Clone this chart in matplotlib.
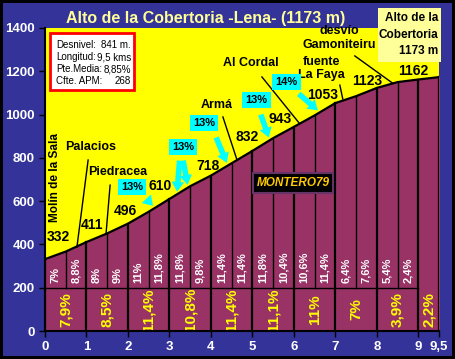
import numpy as np
import matplotlib.pyplot as plt
from matplotlib.patches import Rectangle

plt.rcParams['font.family'] = ['Liberation Sans', 'DejaVu Sans']

# Données du profil
km = [0, 0.5, 1, 1.5, 2, 2.5, 3, 3.5, 4, 4.5, 5, 5.5, 6, 6.5, 7, 7.5, 8, 8.5, 9, 9.5]
altitude = [332, 367, 411, 451, 496, 551, 610, 669, 718, 775, 832, 891, 943, 996,
            1053, 1085, 1123, 1150, 1162, 1173]
pente_demi = ["7%", "8,8%", "8%", "9%", "11%", "11,8%", "11,8%", "9,8%", "11,4%", "11,4%",
              "11,8%", "10,4%", "10,6%", "11,4%", "6,4%", "7,6%", "5,4%", "2,4%"]
pente_km = ["7,9%", "8,5%", "11,4%", "10,8%", "11,4%", "11,1%", "11%", "7%", "3,9%", "2,2%"]
km_bornes = [0, 1, 2, 3, 4, 5, 6, 7, 8, 9, 9.5]
alt_bornes = [332, 411, 496, 610, 718, 832, 943, 1053, 1123, 1162]
xtick_labels = ["0", "1", "2", "3", "4", "5", "6", "7", "8", "9", "9,5"]

# Positions des étiquettes (mise en page)
pos_alt = [(0.31, 434), (1.13, 490), (1.95, 554), (2.77, 670), (3.93, 762),
           (4.87, 896), (5.66, 980), (6.70, 1090), (7.76, 1155), (8.87, 1201)]
lieux = [
    ("Palacios", (1.10, 850), (1.04, 790), (0.77, 388)),
    ("Piedracea", (1.76, 735), (1.57, 674), (1.47, 446)),
    ("Armá", (4.14, 1044), (4.29, 989), (4.63, 790)),
    ("Al Cordal", (4.96, 1238), (5.23, 1174), (6.14, 958)),
    ("fuente\nLa Faya", (6.67, 1213), (7.11, 1136), (7.18, 1072)),
    ("desvío\nGamoniteiru", (7.10, 1352), (7.47, 1271), (8.39, 1144)),
]
fleches = [
    ("13%", (2.10, 665), [((2.41, 618), (2.65, 569))]),
    ("13%", (3.33, 850), [((3.25, 800), (3.18, 631)), ((3.32, 800), (3.45, 663))]),
    ("13%", (3.83, 961), [((4.10, 906), (4.41, 765))]),
    ("13%", (5.10, 1067), [((5.18, 1012), (5.42, 882))]),
    ("14%", (5.83, 1151), [((6.07, 1104), (6.63, 1011))]),
]

########################################################
# Figure
########################################################
bleu = "#333399"
bordeaux = "#993366"
fig = plt.figure(figsize=(4.55, 3.59), dpi=100, facecolor=bleu)
fig.patch.set_edgecolor("black")
fig.patch.set_linewidth(3)
ax = fig.add_axes([45/455, 28/359, 394/455, 303/359])
ax.set_facecolor("#FFFF00")

# Zone sous le profil
ax.fill_between(km, altitude, 0, color=bordeaux, zorder=1)
ax.plot(km, altitude, color="black", lw=1.6, zorder=3)

# Séparateurs
for x, z in zip(km, altitude):
    if x == int(x) or x == 9.5:
        ax.plot([x, x], [0, z], color="black", lw=1.6, zorder=2)
    else:
        ax.plot([x, x], [200, z], color="black", lw=1, zorder=2)
ax.plot([0, 9], [200, 200], color="black", lw=1, zorder=2)

# Pentes par demi-km
for i, p in enumerate(pente_demi):
    ax.text(km[i] + 0.25, 222, p, rotation=90, ha="center", va="bottom",
            color="white", fontsize=8, fontweight="bold", zorder=4)

# Pentes par km
for i, p in enumerate(pente_km):
    xc = (km_bornes[i] + km_bornes[i + 1]) / 2
    ax.text(xc, 100, p, rotation=90, ha="center", va="center",
            color="#FFFF00", fontsize=11, fontweight="bold", zorder=4)

# Altitudes
for (x, y), a in zip(pos_alt, alt_bornes):
    ax.text(x, y, str(a), ha="center", va="center", fontsize=10,
            fontweight="bold", color="black", zorder=5)

# Lieux
ax.text(0.24, 707, "Molín de la Sala", rotation=90, ha="center", va="center",
        fontsize=8.5, fontweight="bold", zorder=5)
for nom, pt, l0, l1 in lieux:
    ax.text(pt[0], pt[1], nom, ha="center", va="center", fontsize=9,
            fontweight="bold", zorder=5, linespacing=1.2)
    ax.plot([l0[0], l1[0]], [l0[1], l1[1]], color="black", lw=1, zorder=5)

# Pourcentages maximum avec flèches
for txt, pt, lst in fleches:
    for (x0, y0), (x1, y1) in lst:
        ax.annotate("", xy=(x1, y1), xytext=(x0, y0),
                    arrowprops=dict(arrowstyle="simple,head_width=0.9,head_length=0.7,tail_width=0.4",
                                    color="#00FFFF", lw=0), zorder=6)
    ax.text(pt[0], pt[1], txt, ha="center", va="center", fontsize=8,
            fontweight="bold", zorder=7,
            bbox=dict(boxstyle="square,pad=0.3", fc="#00FFFF", ec="none"))

# Signature
ax.text(5.98, 684, "MONTERO79", ha="center", va="center", fontsize=8.5,
        fontweight="bold", style="italic", color="#FFCC00", zorder=7,
        bbox=dict(boxstyle="square,pad=0.3", fc="black", ec="#663366", lw=1.5))

# Cadre d'informations
ax.add_patch(Rectangle((0.0127, 0.795), 0.213, 0.188, transform=ax.transAxes,
                       fc="white", ec="red", lw=2, zorder=8))
infos = [("Desnivel:", "841 m."), ("Longitud:", "9,5 kms"),
         ("Pte.Media:", "8,85%"), ("Cfte. APM:", "268")]
for i, (a, b) in enumerate(infos):
    yy = (331 - 45 - 12 * i) / 303
    ax.text(0.028, yy, a, transform=ax.transAxes, fontsize=7, va="center", zorder=9)
    ax.text(0.218, yy, b, transform=ax.transAxes, fontsize=7, va="center",
            ha="right", zorder=9)

# Axes
ax.set_xlim(0, 9.5)
ax.set_ylim(0, 1400)
ax.set_xticks(km_bornes)
ax.set_xticklabels(xtick_labels)
ax.set_yticks(range(0, 1401, 200))
for s in ["top", "right"]:
    ax.spines[s].set_visible(False)
for s in ["left", "bottom"]:
    ax.spines[s].set_linewidth(1.5)
    ax.spines[s].set_zorder(10)
ax.tick_params(colors="black", labelcolor="white", labelsize=9.5, length=4, width=1)
for lab in ax.get_xticklabels() + ax.get_yticklabels():
    lab.set_fontweight("bold")

# Titre
fig.text(206/455, 1 - 18/359, "Alto de la Cobertoria -Lena- (1173 m)", ha="center",
         va="center", fontsize=11.5, fontweight="bold", color="#FFFF99")

# Cadre du col
fig.patches.append(Rectangle((378/455, 1 - 62/359), 63/455, 54/359,
                             transform=fig.transFigure, fc="#FFFF99", ec="none",
                             figure=fig, zorder=10))
for i, t in enumerate(["Alto de la", "Cobertoria", "1173 m"]):
    fig.text(438/455, 1 - (18 + 16.5 * i)/359, t, ha="right", va="center",
             fontsize=8.5, fontweight="bold", color="black", zorder=11)

plt.savefig("out.png", dpi=100, facecolor=fig.get_facecolor(), edgecolor="black")
